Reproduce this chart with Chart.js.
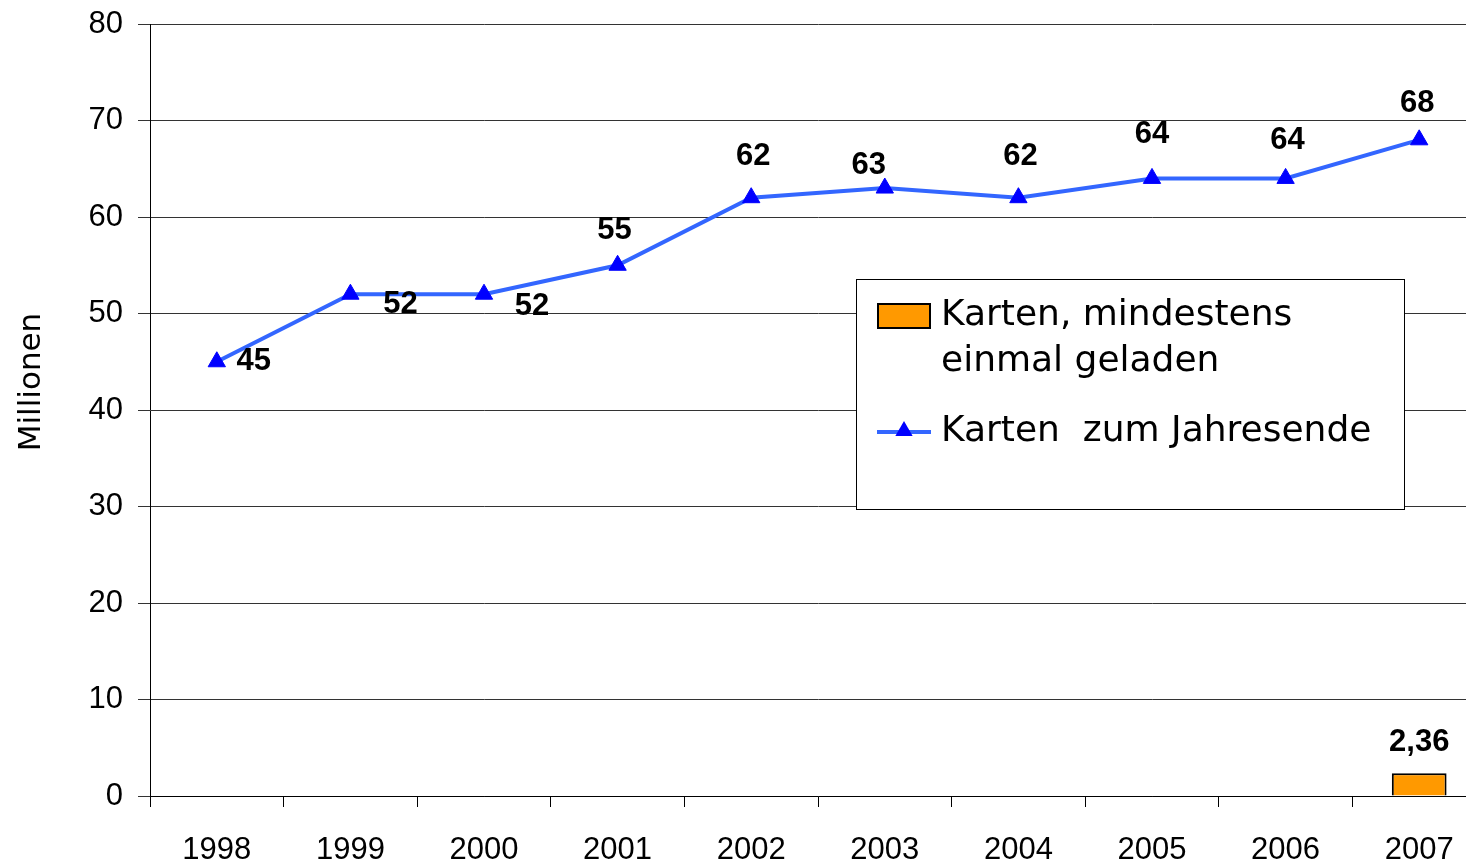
<!DOCTYPE html>
<html>
<head>
<meta charset="utf-8">
<script src="https://cdn.jsdelivr.net/npm/chart.js@4/dist/chart.umd.min.js"></script>
<style>
  html, body { margin: 0; padding: 0; overflow: hidden; background: #fff; }
</style>
</head>
<body>
<canvas id="myChart" width="1497" height="866"></canvas>
<script>
const years = ['1998', '1999', '2000', '2001', '2002', '2003', '2004', '2005', '2006', '2007'];
const cardsYearEnd = [45, 52, 52, 55, 62, 63, 62, 64, 64, 68];
const cardsLoaded = [null, null, null, null, null, null, null, null, null, 2.36];
const loadedLabel = ['Karten, mindestens', 'einmal geladen'];
const yearEndLabel = 'Karten  zum Jahresende';
const yTitle = 'Millionen';

const lineColor = '#3366FF';
const markerColor = '#0000FF';
const barColor = '#FF9900';

// where each number sits next to its triangle (dx, dy in px)
const lineLabelShift = [
  [37, 0], [50, 10], [48, 12], [-3, -35], [2, -41],
  [-16, -23], [2, -41], [0, -44], [2, -38], [-2, -36]
];

const fmt = v => String(v).replace('.', ',');

const valueLabels = {
  id: 'valueLabels',
  afterDatasetsDraw(chart) {
    const ctx = chart.ctx;
    ctx.save();
    ctx.font = 'bold 31px "Liberation Sans"';
    ctx.fillStyle = '#000';
    ctx.textAlign = 'center';
    ctx.textBaseline = 'middle';
    chart.data.datasets.forEach((ds, di) => {
      const meta = chart.getDatasetMeta(di);
      meta.data.forEach((el, i) => {
        const v = ds.data[i];
        if (v == null) return;
        if (ds.type === 'bar') {
          ctx.fillText(fmt(v), el.x, el.y - 31);
        } else {
          const s = lineLabelShift[i];
          ctx.fillText(fmt(v), el.x + s[0], el.y + s[1]);
        }
      });
    });
    ctx.restore();
  }
};

const sideTitle = {
  id: 'sideTitle',
  afterDraw(chart) {
    const ctx = chart.ctx;
    ctx.save();
    ctx.translate(32, 382);
    ctx.rotate(-Math.PI / 2);
    ctx.font = '31px "DejaVu Sans"';
    ctx.fillStyle = '#000';
    ctx.textAlign = 'center';
    ctx.textBaseline = 'middle';
    ctx.fillText(yTitle, 0, 0);
    ctx.restore();
  }
};

const boxLegend = {
  id: 'boxLegend',
  afterDraw(chart) {
    const ctx = chart.ctx;
    ctx.save();
    ctx.fillStyle = '#fff';
    ctx.fillRect(856, 279, 548, 230);
    ctx.strokeStyle = '#000';
    ctx.lineWidth = 1;
    ctx.strokeRect(856.5, 279.5, 548, 230);

    // bar swatch
    ctx.fillStyle = barColor;
    ctx.fillRect(878, 304, 52, 24);
    ctx.lineWidth = 2;
    ctx.strokeRect(878, 304, 52, 24);

    // line swatch
    ctx.strokeStyle = lineColor;
    ctx.lineWidth = 4;
    ctx.beginPath();
    ctx.moveTo(877, 432);
    ctx.lineTo(931, 432);
    ctx.stroke();
    const r = 10, cx = 904, cy = 431;
    ctx.fillStyle = markerColor;
    ctx.beginPath();
    ctx.moveTo(cx, cy - r);
    ctx.lineTo(cx + r * 0.866, cy + r / 2);
    ctx.lineTo(cx - r * 0.866, cy + r / 2);
    ctx.closePath();
    ctx.fill();

    ctx.fillStyle = '#000';
    ctx.font = '36px "DejaVu Sans"';
    ctx.textAlign = 'left';
    ctx.textBaseline = 'middle';
    ctx.fillText(loadedLabel[0], 941, 316);
    ctx.fillText(loadedLabel[1], 941, 362);
    ctx.fillText(yearEndLabel, 941, 432);
    ctx.restore();
  }
};

const ctx = document.getElementById('myChart').getContext('2d');
const myChart = new Chart(ctx, {
  data: {
    labels: years,
    datasets: [
      {
        type: 'line',
        label: yearEndLabel,
        data: cardsYearEnd,
        borderColor: lineColor,
        borderWidth: 4,
        pointStyle: 'triangle',
        pointRadius: 10,
        pointBackgroundColor: markerColor,
        pointBorderColor: markerColor,
        pointBorderWidth: 1,
        tension: 0,
        order: 1
      },
      {
        type: 'bar',
        label: loadedLabel.join(' '),
        data: cardsLoaded,
        backgroundColor: barColor,
        borderColor: '#000',
        borderWidth: 2,
        categoryPercentage: 1,
        barPercentage: 0.41,
        order: 2
      }
    ]
  },
  options: {
    responsive: false,
    animation: false,
    layout: { padding: { top: 24, right: 5, bottom: 0, left: 0 } },
    plugins: {
      legend: { display: false },
      tooltip: { enabled: false }
    },
    scales: {
      x: {
        type: 'category',
        offset: true,
        grid: {
          offset: true,
          drawOnChartArea: false,
          drawTicks: true,
          tickLength: 11,
          color: '#000',
          lineWidth: 1
        },
        border: { display: true, color: '#000', width: 1 },
        ticks: {
          color: '#000',
          font: { family: 'Liberation Sans', size: 31 },
          padding: 25,
          maxRotation: 0
        },
        afterFit: scale => { scale.height = 70; }
      },
      y: {
        min: 0,
        max: 80,
        ticks: {
          stepSize: 10,
          color: '#000',
          font: { family: 'Liberation Sans', size: 31 },
          padding: 15
        },
        grid: {
          color: '#333',
          lineWidth: 1,
          tickLength: 12
        },
        border: { display: true, color: '#000', width: 1 },
        afterFit: scale => {
          scale.width = 150;
          scale.paddingTop = 0;
          scale.paddingBottom = 0;
        }
      }
    }
  },
  plugins: [valueLabels, sideTitle, boxLegend]
});
</script>
</body>
</html>
